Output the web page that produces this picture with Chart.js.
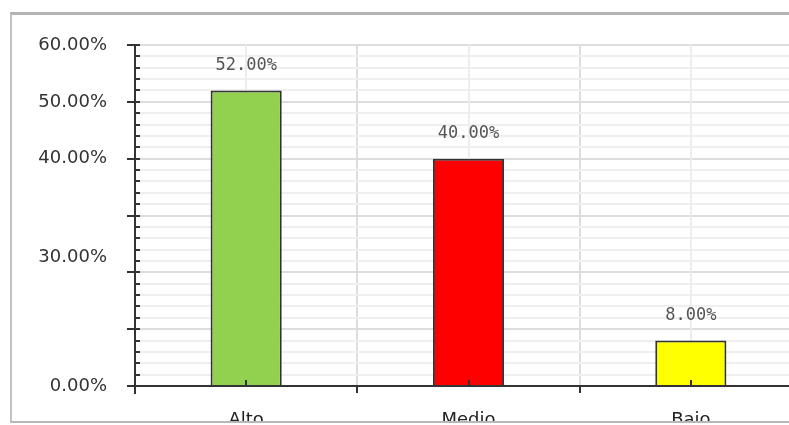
<!DOCTYPE html>
<html>
<head>
<meta charset="utf-8">
<script src="https://cdn.jsdelivr.net/npm/chart.js@4.4.1/dist/chart.umd.min.js"></script>
<style>
  html, body { margin: 0; padding: 0; background: #fff; overflow: hidden; }
  #page { position: relative; width: 789px; height: 425px; overflow: hidden; }
  #frame {
    position: absolute; left: 10px; top: 12px;
    width: 900px; height: 406px;
    border-top: 3px solid #b3b3b3;
    border-left: 2px solid #c2c2c2;
    border-bottom: 2px solid #b8b8b8;
    border-right: 0;
    overflow: hidden;
  }
  #chart { position: absolute; left: -12px; top: -15px; }
</style>
</head>
<body>
<div id="page">
<div id="frame">
  <canvas id="chart" width="802" height="430"></canvas>
</div>
</div>
<script>
const categories = ['Alto', 'Medio', 'Bajo'];
const values = [52, 40, 8];
const barColors = ['#92d050', '#ff0000', '#ffff00'];
// the y labels in the picture, and where they sit on the axis
const yTickValues = [0, 22.7, 40, 50, 60];
const yTickLabels = ['0.00%', '30.00%', '40.00%', '50.00%', '60.00%'];
const yGridValues = [];
for (let v = 0; v <= 60; v += 2) yGridValues.push(v);

const marks = {
  id: 'marks',
  beforeDatasetsDraw(chart) {
    const { ctx, chartArea: a, scales: { x } } = chart;
    ctx.save();
    ctx.strokeStyle = '#ededed';
    ctx.lineWidth = 2;
    categories.forEach((c, i) => {
      const px = Math.round(x.getPixelForValue(i));
      ctx.beginPath(); ctx.moveTo(px, a.top); ctx.lineTo(px, a.bottom); ctx.stroke();
    });
    ctx.restore();
  },
  afterDatasetsDraw(chart) {
    const { ctx, chartArea: a, scales: { x, y } } = chart;
    ctx.save();
    ctx.strokeStyle = '#333';
    ctx.lineWidth = 2;
    const seg = (x1, y1, x2, y2) => { ctx.beginPath(); ctx.moveTo(x1, y1); ctx.lineTo(x2, y2); ctx.stroke(); };
    // axes
    seg(a.left, a.top, a.left, a.bottom + 8);
    seg(a.left - 8, a.bottom, a.right, a.bottom);
    // y tick marks
    yGridValues.forEach(v => {
      const py = Math.round(y.getPixelForValue(v));
      if (v % 10 === 0) seg(a.left - 8, py, a.left + 5, py);
      else seg(a.left, py, a.left + 5, py);
    });
    // x tick marks
    categories.forEach((c, i) => {
      const px = Math.round(x.getPixelForValue(i));
      seg(px, a.bottom, px, a.bottom - 6);
      const bx = Math.round(px + x.width / categories.length / 2);
      seg(bx, a.bottom, bx, a.bottom + 7);
    });
    // value labels
    ctx.font = '17px "DejaVu Sans Mono"';
    ctx.fillStyle = '#555';
    ctx.textAlign = 'center';
    ctx.textBaseline = 'middle';
    chart.getDatasetMeta(0).data.forEach((bar, i) => {
      ctx.fillText(values[i].toFixed(2) + '%', bar.x, bar.y - 25);
    });
    ctx.restore();
  }
};

new Chart(document.getElementById('chart'), {
  type: 'bar',
  data: {
    labels: categories,
    datasets: [{
      data: values,
      backgroundColor: barColors,
      borderColor: '#333',
      borderWidth: 2,
      borderSkipped: 'bottom',
      categoryPercentage: 1,
      barPercentage: 0.32
    }]
  },
  options: {
    responsive: false,
    animation: false,
    layout: { padding: { top: 45, left: 0, right: 0, bottom: 0 } },
    plugins: { legend: { display: false }, tooltip: { enabled: false } },
    scales: {
      x: {
        offset: true,
        afterFit: s => { s.height = 44; },
        border: { display: false },
        grid: { offset: true, color: '#dddddd', lineWidth: 2, tickLength: 8, tickColor: 'transparent' },
        ticks: { padding: 16, color: '#222', font: { family: 'DejaVu Sans', size: 18 } }
      },
      y: {
        min: 0,
        max: 60,
        afterFit: s => { s.width = 135; },
        afterBuildTicks: s => {
          const all = [...new Set(yGridValues.concat(yTickValues))].sort((p, q) => p - q);
          s.ticks = all.map(v => ({ value: v }));
        },
        border: { display: false },
        grid: {
          tickLength: 8,
          tickColor: 'transparent',
          lineWidth: 2,
          color: c => {
            const v = c.tick.value;
            if (!yGridValues.includes(v)) return 'transparent';
            return v % 10 === 0 ? '#dddddd' : '#efefef';
          }
        },
        ticks: {
          autoSkip: false,
          padding: 20,
          color: '#333',
          font: { family: 'DejaVu Sans', size: 18 },
          callback: v => {
            const i = yTickValues.indexOf(v);
            return i >= 0 ? yTickLabels[i] : '';
          }
        }
      }
    }
  },
  plugins: [marks]
});
</script>
</body>
</html>
